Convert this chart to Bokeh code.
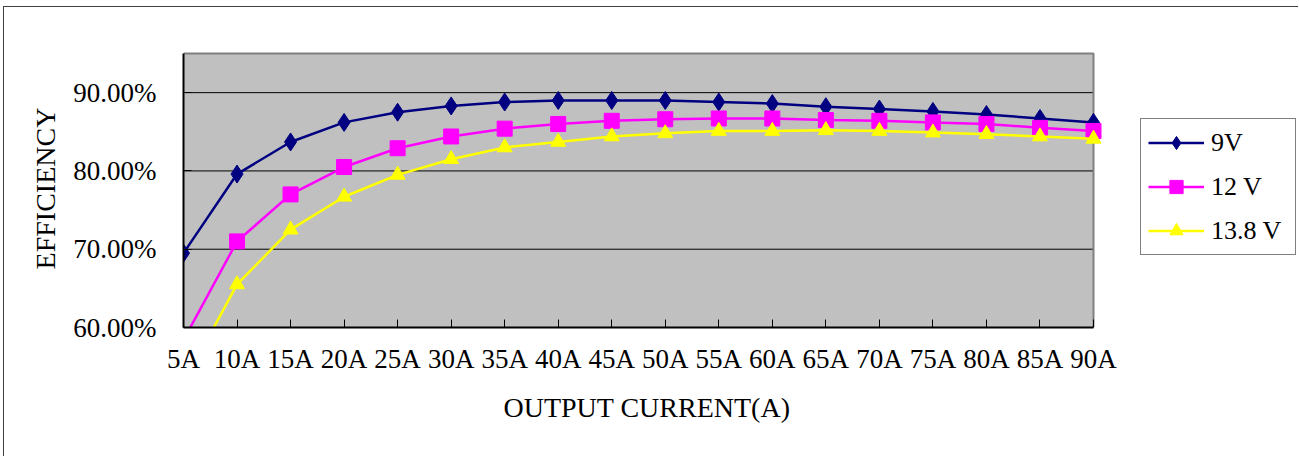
from bokeh.plotting import figure
from bokeh.models import (Range1d, FixedTicker, NumeralTickFormatter, Legend,
                          LegendItem, Title)
from bokeh.embed import file_html
from bokeh.resources import INLINE

# ---- data ----
currents = [5, 10, 15, 20, 25, 30, 35, 40, 45, 50, 55, 60, 65, 70, 75, 80, 85, 90]
current_labels = ["5A", "10A", "15A", "20A", "25A", "30A", "35A", "40A", "45A",
                  "50A", "55A", "60A", "65A", "70A", "75A", "80A", "85A", "90A"]
eff_9v = [69.5, 79.6, 83.7, 86.2, 87.5, 88.3, 88.8, 89.0, 89.0, 89.0, 88.8, 88.6,
          88.2, 87.9, 87.6, 87.2, 86.7, 86.2]
eff_12v = [58.4, 71.0, 77.0, 80.5, 82.9, 84.4, 85.4, 86.0, 86.4, 86.6, 86.7, 86.7,
           86.5, 86.4, 86.2, 86.0, 85.5, 85.1]
eff_13_8v = [52.8, 65.5, 72.5, 76.7, 79.5, 81.5, 83.0, 83.7, 84.4, 84.8, 85.1, 85.1,
             85.2, 85.1, 84.9, 84.7, 84.4, 84.1]
series_names = ["9V", "12 V", "13.8 V"]
y_ticks = [0.6, 0.7, 0.8, 0.9]
grid_levels = [0.7, 0.8, 0.9]
x_min, x_max = 5, 90
y_min, y_max = 0.6, 0.95
x_title = "OUTPUT CURRENT(A)"
y_title = "EFFICIENCY"

FONT = "Liberation Serif"

# ---- page geometry (pixels) ----
OFF_X, OFF_Y = 4, 7                    # outer chart border position
AREA_L, AREA_R = 183, 1093             # plot area left / right on the page
AREA_T, AREA_B = 53, 327               # plot area top / bottom on the page
FRAME_T, FRAME_R = 49, 1299            # drawing frame (larger than plot area)

x_end = x_min + (x_max - x_min) * (FRAME_R - AREA_L) / (AREA_R - AREA_L)
y_end = y_min + (y_max - y_min) * (AREA_B - FRAME_T) / (AREA_B - AREA_T)

p = figure(width=1299 - OFF_X, height=457 - OFF_Y,
           x_range=Range1d(x_min, x_end), y_range=Range1d(y_min, y_end),
           output_backend="svg", toolbar_location=None,
           min_border_left=AREA_L - OFF_X, min_border_right=0,
           min_border_top=FRAME_T - OFF_Y, min_border_bottom=457 - AREA_B,
           background_fill_color="white", border_fill_color="white")
p.styles = {"margin-left": f"{OFF_X - 1}px", "margin-top": f"{OFF_Y - 1}px",
            "border-left": "1px solid #404040", "border-top": "1px solid #404040"}
p.outline_line_color = None
p.xgrid.visible = False
p.ygrid.visible = False

# plot area background, grid lines, border
p.quad(left=x_min, right=x_max, bottom=y_min, top=y_max,
       fill_color="#C0C0C0", line_color=None)
p.segment(x0=[x_min] * len(grid_levels), x1=[x_max] * len(grid_levels),
          y0=grid_levels, y1=grid_levels, line_color="black", line_width=1)
p.line([x_min, x_max, x_max], [y_max, y_max, y_min], line_color="#808080",
       line_width=2)

# axes
for ax in (p.xaxis, p.yaxis):
    ax.axis_line_color = "black"
    ax.axis_line_width = 2
    ax.major_tick_in = 8
    ax.major_tick_out = 0
    ax.major_tick_line_color = "black"
    ax.minor_tick_line_color = None
    ax.major_label_text_font = FONT
    ax.major_label_text_font_size = "27px"
    ax.major_label_text_color = "black"
    ax.axis_label_text_font = FONT
    ax.axis_label_text_font_size = "28px"
    ax.axis_label_text_font_style = "normal"
    ax.axis_label_text_color = "black"

p.xaxis.bounds = (x_min, x_max)
p.xaxis.ticker = FixedTicker(ticks=currents)
p.xaxis.major_label_overrides = {c: l for c, l in zip(currents, current_labels)}
p.xaxis.major_label_standoff = 16

p.yaxis.bounds = (y_min, y_max)
p.yaxis.ticker = FixedTicker(ticks=y_ticks)
p.yaxis.formatter = NumeralTickFormatter(format="0.00%")
p.yaxis.major_label_standoff = 27
p.yaxis.axis_label = y_title
p.yaxis.axis_label_standoff = 9

# x axis title, centred under the plot area (not the wider frame)
p.add_layout(Title(text=x_title, align="left", offset=503 - AREA_L,
                   text_font=FONT, text_font_size="28px", text_font_style="normal",
                   text_color="black", standoff=27), "below")

# series
colors = ["#000080", "#FF00FF", "#FFFF00"]
markers = ["diamond", "square", "triangle"]
sizes = [18, 15, 15]
items = []
for name, vals, col, mk, sz in zip(series_names, [eff_9v, eff_12v, eff_13_8v],
                                   colors, markers, sizes):
    ys = [v / 100.0 for v in vals]
    r1 = p.line(currents, ys, line_color=col, line_width=2.5)
    r2 = p.scatter(currents, ys, marker=mk, size=sz, fill_color=col, line_color=col)
    items.append(LegendItem(label=name, renderers=[r1, r2]))

legend = Legend(items=items, location=(1140 - AREA_L, AREA_B - 255), margin=0,
                padding=7, spacing=11, glyph_width=56, glyph_height=33,
                label_standoff=7, label_width=77,
                label_text_font=FONT, label_text_font_size="26px",
                label_text_color="black", border_line_color="black",
                border_line_width=1, background_fill_color="white",
                background_fill_alpha=1.0)
p.add_layout(legend)

open("out.html", "w").write(file_html(p, INLINE))
